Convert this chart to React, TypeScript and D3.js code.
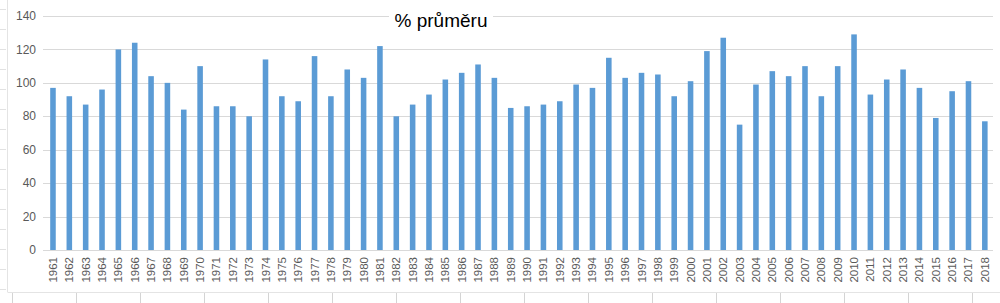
import React from "react";
import * as d3 from "d3";

const years: string[] = [
  "1961","1962","1963","1964","1965","1966","1967","1968","1969","1970",
  "1971","1972","1973","1974","1975","1976","1977","1978","1979","1980",
  "1981","1982","1983","1984","1985","1986","1987","1988","1989","1990",
  "1991","1992","1993","1994","1995","1996","1997","1998","1999","2000",
  "2001","2002","2003","2004","2005","2006","2007","2008","2009","2010",
  "2011","2012","2013","2014","2015","2016","2017","2018",
];

const values: number[] = [
  97, 92, 87, 96, 120, 124, 104, 100, 84, 110,
  86, 86, 80, 114, 92, 89, 116, 92, 108, 103,
  122, 80, 87, 93, 102, 106, 111, 103, 85, 86,
  87, 89, 99, 97, 115, 103, 106, 105, 92, 101,
  119, 127, 75, 99, 107, 104, 110, 92, 110, 129,
  93, 102, 108, 97, 79, 95, 101, 77,
];

const yTicks: number[] = [0, 20, 40, 60, 80, 100, 120, 140];
const title = "% průměru";

const W = 1000;
const H = 303;

export default function App() {
  const x = d3.scaleBand<string>().domain(years).range([44.8, 993]).paddingInner(0.66).paddingOuter(0.33);
  const y = d3.scaleLinear().domain([0, 140]).range([250, 16]);
  const font = "'Liberation Sans', Arial, sans-serif";

  const rowLines = d3.range(9, 300, 20);
  const colLines = d3.range(12, W, 64);

  return (
    <svg width={W} height={H} style={{ position: "absolute", left: 0, top: 0, background: "#fff" }}>
      {/* spreadsheet background hints */}
      {rowLines.map((r) => (
        <line key={"r" + r} x1={0} x2={6} y1={r + 0.5} y2={r + 0.5} stroke="#e2e2e2" />
      ))}
      {colLines.map((c) => (
        <line key={"c" + c} x1={c + 0.5} x2={c + 0.5} y1={293} y2={H} stroke="#d4d4d4" />
      ))}
      <line x1={7.5} x2={7.5} y1={0} y2={292} stroke="#e4e4e4" />
      <line x1={7.5} x2={W} y1={292.5} y2={292.5} stroke="#e4e4e4" />

      {/* gridlines */}
      {yTicks.map((t) => (
        <line key={"g" + t} x1={43} x2={993} y1={Math.round(y(t)) + 0.5} y2={Math.round(y(t)) + 0.5} stroke="#d9d9d9" />
      ))}
      {yTicks.map((t) => (
        <text key={"yl" + t} x={36} y={y(t)} dy="0.35em" textAnchor="end" fontFamily={font} fontSize={12} fill="#595959">
          {t}
        </text>
      ))}

      {/* bars */}
      {years.map((yr, i) => (
        <rect key={yr} x={x(yr)} y={y(values[i])} width={x.bandwidth()} height={y(0) - y(values[i])} fill="#5b9bd5" />
      ))}

      {/* x labels */}
      {years.map((yr) => {
        const cx = (x(yr) as number) + x.bandwidth() / 2;
        return (
          <text key={"xl" + yr} transform={`translate(${cx + 4},257) rotate(-90)`} textAnchor="end" fontFamily={font} fontSize={11.5} fill="#595959">
            {yr}
          </text>
        );
      })}

      {/* title */}
      <rect x={389} y={8} width={104} height={24} fill="#fff" />
      <text x={441} y={27} textAnchor="middle" fontFamily={font} fontSize={19} fill="#000">
        {title}
      </text>
    </svg>
  );
}
